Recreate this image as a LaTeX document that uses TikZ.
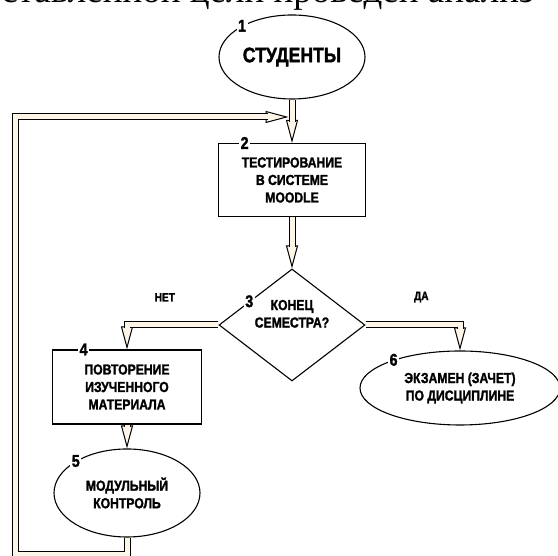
\documentclass[tikz,border=0pt]{standalone}
\usepackage{fontspec}
\usepackage{tikz}
\usetikzlibrary{arrows.meta,positioning,shapes.geometric}
\newfontfamily\blockfont[FakeStretch=0.84,BoldFeatures={FakeBold=1.6}]{Liberation Sans}
\newfontfamily\pagefont{Liberation Serif}
\definecolor{cream}{RGB}{253,246,232}
\newcommand{\flow}[1]{\draw[head] #1; \draw[stem] #1;}

\begin{document}
\begin{tikzpicture}[x=1pt,y=1pt,on grid,
    every node/.style={font=\blockfont\bfseries\fontsize{14.5}{17.5}\selectfont,align=center},
    box/.style={draw,line width=1.1pt,rectangle,minimum width=147pt,minimum height=73pt,inner sep=0pt},
    oval/.style={draw,line width=1.1pt,ellipse,inner sep=0pt},
    choice/.style={draw,line width=1.1pt,diamond,aspect=1.3,minimum width=146pt,minimum height=112pt,inner sep=0pt},
    num/.style={fill=white,inner sep=1.5pt,font=\blockfont\bfseries\fontsize{17}{17}\selectfont},
    branch/.style={font=\blockfont\bfseries\fontsize{12}{12}\selectfont},
    head/.style={line width=1pt,-{Triangle[length=23pt,width=12pt,fill=cream]}},
    stem/.style={line width=1pt,double=cream,double distance=5pt,shorten >=21pt}]
    \useasboundingbox (0,0) rectangle (558,556);
    \clip (0,0) rectangle (558,556);
    \node[font=\pagefont\fontsize{37}{40}\selectfont,inner sep=0pt,anchor=base west](p_0) at (-38,553){поставленной цели проведен анализ};
    % blocks
    \node[oval,minimum width=146pt,minimum height=84pt,font=\blockfont\bfseries\fontsize{21}{24}\selectfont](b_1) at (292,499){СТУДЕНТЫ};
    \node[box](b_2)[below=123pt of b_1]{ТЕСТИРОВАНИЕ\\В СИСТЕМЕ\\MOODLE};
    \node[choice](b_3)[below=145pt of b_2]{КОНЕЦ\\СЕМЕСТРА?\\[5pt]};
    \node[box,minimum width=149pt,minimum height=74pt](b_4)[below left=62pt and 165pt of b_3]{ПОВТОРЕНИЕ\\ИЗУЧЕННОГО\\МАТЕРИАЛА};
    \node[oval,minimum width=146pt,minimum height=88pt](b_5)[below=106pt of b_4]{МОДУЛЬНЫЙ\\КОНТРОЛЬ};
    \node[oval,minimum width=200pt,minimum height=74pt](b_6)[below right=63pt and 168pt of b_3]{ЭКЗАМЕН (ЗАЧЕТ)\\ПО ДИСЦИПЛИНЕ};
    % numbers
    \node[num](n_1) at (b_1.148){1};
    \node[num](n_2)[right=21pt of b_2.north west]{2};
    \node[num](n_3) at (b_3.151){3};
    \node[num](n_4)[right=26pt of b_4.north west]{4};
    \node[num](n_5) at (b_5.148){5};
    \node[num](n_6) at (b_6.157){6};
    \node[branch](l_no)[above left=20pt and 40pt of b_3.west]{НЕТ};
    \node[branch](l_yes)[above right=19pt and 45pt of b_3.east]{ДА};
    % connectors
    \coordinate (c_low) at (15,1);
    \coordinate (c_in) at (288.5,439);
    \flow{(b_1) -- (b_2)}
    \flow{(b_2) -- (b_3)}
    \flow{(b_3.west) -| (b_4.north)}
    \flow{(b_3.east) -| (b_6.north)}
    \flow{(b_4) -- (b_5)}
    \flow{(b_5.south) |- (c_low) |- (c_in)}
\end{tikzpicture}
\end{document}
